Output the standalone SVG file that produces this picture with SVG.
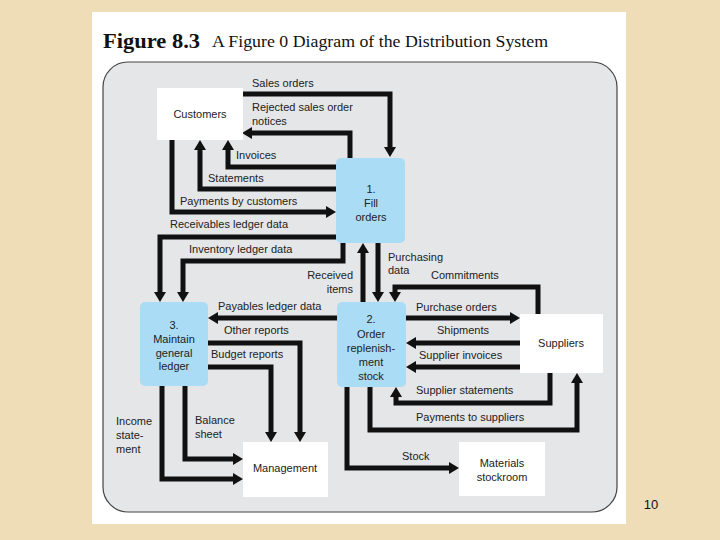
<svg xmlns="http://www.w3.org/2000/svg" width="720" height="540" viewBox="0 0 720 540">
<defs>
<marker id="ah" viewBox="0 0 10 12" refX="0" refY="6" markerWidth="10" markerHeight="12" markerUnits="userSpaceOnUse" orient="auto">
<path d="M0,0 L10,6 L0,12 z" fill="#111"/>
</marker>
<style>
.bg{fill:#EEDDB6}
.page{fill:#ffffff}
.panel{fill:#E5E6E8;stroke:#444;stroke-width:1.2}
.ext{fill:#ffffff}
.proc{fill:#AADDF5}
.lbl{font-family:"Liberation Sans",Arial,sans-serif;font-size:11px;fill:#222}
.nt{font-family:"Liberation Sans",Arial,sans-serif;font-size:11px;fill:#222;text-anchor:middle}
.c path{fill:none;stroke:#111;stroke-width:5;stroke-linejoin:miter;stroke-linecap:butt}
.c path.a{marker-end:url(#ah)}
</style>
</defs>
<rect class="bg" x="0" y="0" width="720" height="540"/>
<rect class="page" x="92" y="12" width="534" height="512"/>
<text x="103" y="48" font-family="Liberation Serif,Times New Roman,serif" font-size="22" font-weight="bold" fill="#111" textLength="97" lengthAdjust="spacingAndGlyphs">Figure 8.3</text>
<text x="212" y="47" font-family="Liberation Serif,Times New Roman,serif" font-size="17.5" fill="#111" textLength="336" lengthAdjust="spacingAndGlyphs">A Figure 0 Diagram of the Distribution System</text>
<rect class="panel" x="103" y="62" width="514" height="450" rx="25" ry="25"/>

<g class="c" id="connectors">
<path class="a" d="M242,94 H390 V147"/>
<path class="a" d="M350,158 V133 H252"/>
<path class="a" d="M336,167 H228 V150"/>
<path class="a" d="M336,189 H200 V150"/>
<path class="a" d="M172,140 V212 H326"/>
<path class="a" d="M336,237 H160 V292"/>
<path class="a" d="M343,243 V261 H183 V292"/>
<path class="a" d="M363,302 V253"/>
<path class="a" d="M378,243 V292"/>
<path class="a" d="M538,314 V287 H395 V292"/>
<path class="a" d="M337,318 H218"/>
<path class="a" d="M208,343 H300 V432"/>
<path class="a" d="M208,367 H271 V432"/>
<path class="a" d="M185,386 V459 H233"/>
<path class="a" d="M162,386 V479 H233"/>
<path class="a" d="M406,318 H510"/>
<path class="a" d="M520,343 H416"/>
<path class="a" d="M520,367 H416"/>
<path class="a" d="M550,373 V403 H396 V397"/>
<path class="a" d="M370,387 V430 H577 V383"/>
<path class="a" d="M347,387 V468 H449"/>
</g>

<g id="labels">
<text class="lbl" x="252" y="87">Sales orders</text>
<text class="lbl" x="252" y="111">Rejected sales order</text>
<text class="lbl" x="252" y="125">notices</text>
<text class="lbl" x="236" y="159">Invoices</text>
<text class="lbl" x="208" y="182">Statements</text>
<text class="lbl" x="180" y="205">Payments by customers</text>
<text class="lbl" x="170" y="228">Receivables ledger data</text>
<text class="lbl" x="189" y="253">Inventory ledger data</text>
<text class="lbl" x="353" y="279" text-anchor="end">Received</text>
<text class="lbl" x="353" y="293" text-anchor="end">items</text>
<text class="lbl" x="388" y="261">Purchasing</text>
<text class="lbl" x="388" y="274">data</text>
<text class="lbl" x="431" y="279">Commitments</text>
<text class="lbl" x="218" y="310">Payables ledger data</text>
<text class="lbl" x="416" y="311">Purchase orders</text>
<text class="lbl" x="224" y="334">Other reports</text>
<text class="lbl" x="437" y="334">Shipments</text>
<text class="lbl" x="211" y="358">Budget reports</text>
<text class="lbl" x="419" y="359">Supplier invoices</text>
<text class="lbl" x="416" y="394">Supplier statements</text>
<text class="lbl" x="416" y="421">Payments to suppliers</text>
<text class="lbl" x="116" y="425">Income</text>
<text class="lbl" x="116" y="439">state-</text>
<text class="lbl" x="116" y="453">ment</text>
<text class="lbl" x="195" y="424">Balance</text>
<text class="lbl" x="195" y="438">sheet</text>
<text class="lbl" x="402" y="460">Stock</text>
</g>

<g id="customers">
<rect class="ext" x="157" y="88" width="86" height="52"/>
<text class="nt" x="200" y="118">Customers</text>
</g>
<g id="fill-orders">
<rect class="proc" x="336" y="158" width="69" height="85" rx="5"/>
<text class="nt" x="371" y="193">1.</text>
<text class="nt" x="371" y="207">Fill</text>
<text class="nt" x="371" y="221">orders</text>
</g>
<g id="order-replenishment">
<rect class="proc" x="337" y="302" width="69" height="85" rx="5"/>
<text class="nt" x="371" y="323">2.</text>
<text class="nt" x="371" y="338">Order</text>
<text class="nt" x="371" y="352">replenish-</text>
<text class="nt" x="371" y="366">ment</text>
<text class="nt" x="371" y="380">stock</text>
</g>
<g id="maintain-ledger">
<rect class="proc" x="140" y="302" width="68" height="84" rx="5"/>
<text class="nt" x="174" y="329">3.</text>
<text class="nt" x="174" y="343">Maintain</text>
<text class="nt" x="174" y="357">general</text>
<text class="nt" x="174" y="370">ledger</text>
</g>
<g id="suppliers">
<rect class="ext" x="520" y="314" width="83" height="59"/>
<text class="nt" x="561" y="347">Suppliers</text>
</g>
<g id="management">
<rect class="ext" x="243" y="442" width="85" height="55"/>
<text class="nt" x="285" y="472">Management</text>
</g>
<g id="materials-stockroom">
<rect class="ext" x="459" y="442" width="86" height="54"/>
<text class="nt" x="502" y="467">Materials</text>
<text class="nt" x="502" y="481">stockroom</text>
</g>
<text x="651" y="509" font-family="Liberation Sans,Arial,sans-serif" font-size="13" fill="#111" text-anchor="middle">10</text>
</svg>
